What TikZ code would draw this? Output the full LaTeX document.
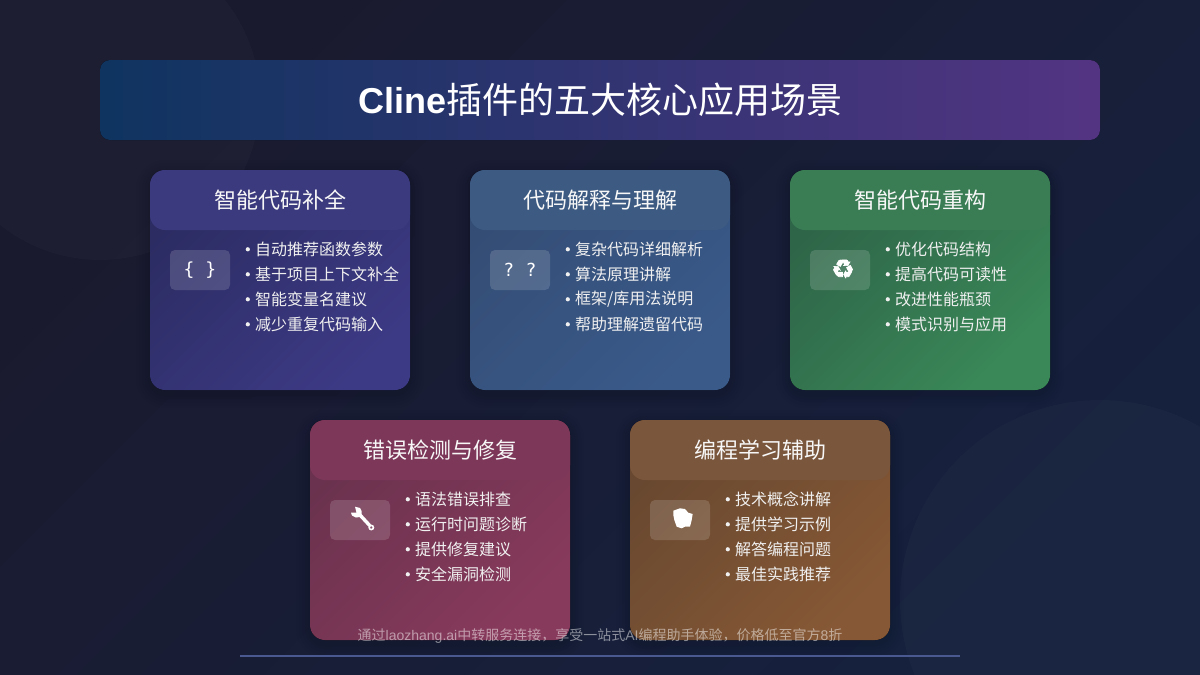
\documentclass[tikz,border=0pt]{standalone}
\usepackage{fontspec}
\setmainfont{Noto Sans CJK SC}
\newfontfamily\latinfont{Liberation Sans}[BoldFont={Liberation Sans Bold}]
\newfontfamily\symbolfont{DejaVu Sans Bold}[FakeBold=2.5]
\newfontfamily\monofont{DejaVu Sans Mono}
\usetikzlibrary{calc}
\definecolor{bgA}{HTML}{1A1A2E}\definecolor{bgB}{HTML}{16213E}
\definecolor{barA}{HTML}{0F3460}\definecolor{barB}{HTML}{533483}
\definecolor{pa}{HTML}{2C2C63}\definecolor{pb}{HTML}{3D3A85}\definecolor{ph}{HTML}{3C3A7E}
\definecolor{ba}{HTML}{344D75}\definecolor{bb}{HTML}{3A5A8A}\definecolor{bh}{HTML}{3C5A82}
\definecolor{ga}{HTML}{2E6448}\definecolor{gb}{HTML}{3A8858}\definecolor{gh}{HTML}{3A7D55}
\definecolor{ra}{HTML}{6A324E}\definecolor{rb}{HTML}{883A5C}\definecolor{rh}{HTML}{7D3759}
\definecolor{oa}{HTML}{684830}\definecolor{ob}{HTML}{865835}\definecolor{oh}{HTML}{7A563C}
\definecolor{rulec}{HTML}{4A5A90}
\tikzset{
  x=1pt,y=-1pt,
  titletext/.style={font=\fontsize{22}{26}\selectfont,text=white!97!black,inner sep=0},
  itemtext/.style={font=\fontsize{16}{20}\selectfont,text=white!94!black,anchor=west,inner sep=0},
  iconbox/.style={fill=white,fill opacity=.15,rounded corners=5},
  icontext/.style={text=white,inner sep=0},
}
\newcommand{\cardbox}[8]{%
  \foreach \i/\o in {14/.012,11/.016,8/.02,5/.025,2/.03}{
    \fill[black,opacity=\o,rounded corners=15+\i] ($(#1,#2)+(-\i,4-\i)$) rectangle ++(260+2*\i,220+2*\i);
  }
  \fill[rounded corners=15,top color=#3,bottom color=#4,shading angle=45] (#1,#2) rectangle ++(260,220);
  \fill[rounded corners=15,#5] (#1,#2) rectangle ++(260,60);
  \node[titletext] at ($(#1,#2)+(130,30.5)$) {#6};
  \fill[iconbox] ($(#1,#2)+(20,80)$) rectangle ++(60,40);
  \coordinate (ic) at ($(#1,#2)+(50,100)$);
  #7
  \foreach \t [count=\n from 0] in {#8}{
    \fill[white!94!black] ($(#1,#2)+(97.8,79.3+25*\n)$) circle (2.1);
    \node[itemtext] at ($(#1,#2)+(105,79.3+25*\n)$) {\t};
  }
}
\begin{document}
\begin{tikzpicture}
\useasboundingbox (0,0) rectangle (1200,675);
\fill[top color=bgA,bottom color=bgB,shading angle=45] (0,0) rectangle (1200,675);
\begin{scope}
\clip (0,0) rectangle (1200,675);
\fill[white,opacity=.018] (100,100) circle (160);
\fill[white,opacity=.018] (1100,600) circle (200);
\end{scope}
\fill[rounded corners=10,top color=barB,bottom color=barA,shading angle=-90] (100,60) rectangle (1100,140);
\node[inner sep=0,text=white] (title) at (600.5,100) {\fontsize{36}{42}\selectfont{\latinfont\bfseries Cline}插件的五大核心应用场景};
\cardbox{150}{170}{pa}{pb}{ph}{智能代码补全}{\node[icontext,font=\monofont\fontsize{18}{20}\selectfont] at (ic) {\{ \}};}{自动推荐函数参数,基于项目上下文补全,智能变量名建议,减少重复代码输入}
\cardbox{470}{170}{ba}{bb}{bh}{代码解释与理解}{\node[icontext,font=\monofont\fontsize{18}{20}\selectfont] at (ic) {?\hspace{-3pt} ?};}{复杂代码详细解析,算法原理讲解,框架/库用法说明,帮助理解遗留代码}
\cardbox{790}{170}{ga}{gb}{gh}{智能代码重构}{\node[icontext,font=\symbolfont\fontsize{26}{28}\selectfont] at ($(ic)+(3,-1)$) {♻};}{优化代码结构,提高代码可读性,改进性能瓶颈,模式识别与应用}
\cardbox{310}{420}{ra}{rb}{rh}{错误检测与修复}{\begin{scope}[shift={(ic)}]
  \fill[white] (-9,-7.3) -- (-3.5,-7.5) -- (-5,-13.3) -- (0,-12) -- (1.5,-9) -- (1.5,-5) -- (0,-3) -- (-4,-2.5) -- (-8,-4.5) -- cycle;
  \draw[white,line width=3.4] (0,-5) -- (9.8,5.6);
  \draw[white,line width=1.6] (11.3,7.5) circle (2.1);
\end{scope}}{语法错误排查,运行时问题诊断,提供修复建议,安全漏洞检测}
\cardbox{630}{420}{oa}{ob}{oh}{编程学习辅助}{\fill[white,shift={(ic)}] (-6.7,-9.3) -- (0,-11.7) -- (5,-11) -- (8.3,-7.3) -- (12.7,-6) -- (11.7,0) -- (10,6.7) -- (5,6.7) -- (1.7,8.3) -- (-3.3,6.7) -- (-5.7,0) -- (-6.7,-5) -- cycle;}{技术概念讲解,提供学习示例,解答编程问题,最佳实践推荐}
\node[inner sep=0,text=white,text opacity=.5,font=\fontsize{14}{16}\selectfont] (foot) at (600,636) {通过{\latinfont laozhang.ai}中转服务连接，享受一站式{\latinfont AI}编程助手体验，价格低至官方{\latinfont 8}折};
\coordinate (ruleL) at (240,656);
\coordinate (ruleR) at (960,656);
\draw[line width=2,rulec] (ruleL) -- (ruleR);
\end{tikzpicture}
\end{document}
